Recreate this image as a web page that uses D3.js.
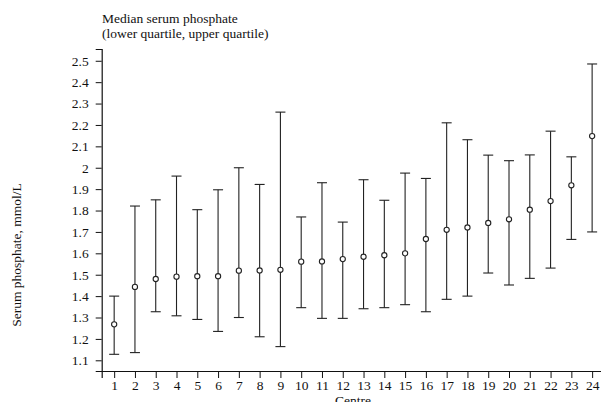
<!DOCTYPE html>
<html>
<head>
<meta charset="utf-8">
<script src="https://cdn.jsdelivr.net/npm/d3@7"></script>
<style>
  body { margin: 0; background: #fff; }
  svg { font-family: "Liberation Serif", "Times New Roman", serif; }
</style>
</head>
<body>
<svg id="chart" width="601" height="402"></svg>
<script>
// Centre numbers
var centres = [1,2,3,4,5,6,7,8,9,10,11,12,13,14,15,16,17,18,19,20,21,22,23,24];
// median serum phosphate, mmol/L
var medians = [1.268,1.443,1.48,1.491,1.493,1.493,1.519,1.52,1.523,1.561,1.562,1.573,
               1.584,1.591,1.60,1.667,1.71,1.721,1.742,1.759,1.804,1.844,1.918,2.148];
// lower quartile
var lowerQ = [1.128,1.136,1.327,1.308,1.291,1.235,1.30,1.21,1.164,1.346,1.296,1.296,
              1.341,1.346,1.36,1.327,1.385,1.40,1.508,1.452,1.483,1.531,1.665,1.70];
// upper quartile
var upperQ = [1.40,1.821,1.85,1.961,1.804,1.897,2.0,1.922,2.26,1.77,1.93,1.746,
              1.944,1.848,1.975,1.95,2.21,2.131,2.059,2.033,2.06,2.171,2.051,2.485];
var yTicks = [1.1,1.2,1.3,1.4,1.5,1.6,1.7,1.8,1.9,2.0,2.1,2.2,2.3,2.4,2.5];

var svg = d3.select("#chart");

var x = d3.scaleLinear().domain([0.4, 24.6]).range([101.7, 604.6]);
var y = d3.scaleLinear().domain([1.05, 2.555]).range([371, 49]);

// title
var title = svg.append("text")
  .attr("x", 102)
  .attr("y", 23)
  .style("font-size", "13.5px")
  .attr("fill", "#111");
title.append("tspan").attr("x", 102).text("Median serum phosphate");
title.append("tspan").attr("x", 102).attr("dy", 14.5).text("(lower quartile, upper quartile)");

// y axis
var yAxis = svg.append("g")
  .attr("transform", "translate(101.7,0)")
  .call(d3.axisLeft(y).tickValues(yTicks).tickSize(6).tickPadding(7)
    .tickFormat(function (d) { return String(+d.toFixed(1)); }));

// x axis
var xAxis = svg.append("g")
  .attr("transform", "translate(0,371)")
  .call(d3.axisBottom(x).tickValues(centres).tickSize(7).tickPadding(2)
    .tickFormat(d3.format("d")));

[yAxis, xAxis].forEach(function (ax) {
  ax.select(".domain").attr("stroke", "#111").attr("stroke-width", 1.2);
  ax.selectAll(".tick line").attr("stroke", "#111");
  ax.selectAll(".tick text")
    .attr("fill", "#111")
    .style("font-family", "'Liberation Serif', serif")
    .style("font-size", "13.5px");
});

// axis titles
svg.append("text")
  .attr("transform", "translate(21,255) rotate(-90)")
  .attr("text-anchor", "middle")
  .style("font-size", "13.5px")
  .attr("fill", "#111")
  .text("Serum phosphate, mmol/L");

svg.append("text")
  .attr("x", 353)
  .attr("y", 404.5)
  .attr("text-anchor", "middle")
  .style("font-size", "13.5px")
  .attr("fill", "#111")
  .text("Centre");

// error bars
var bars = svg.append("g")
  .selectAll("g")
  .data(centres)
  .enter().append("g");

bars.append("line")
  .attr("x1", function (d) { return x(d); })
  .attr("x2", function (d) { return x(d); })
  .attr("y1", function (d, i) { return y(lowerQ[i]); })
  .attr("y2", function (d, i) { return y(upperQ[i]); })
  .attr("stroke", "#222").attr("stroke-width", 1.1);

bars.append("line")
  .attr("x1", function (d) { return x(d) - 5; })
  .attr("x2", function (d) { return x(d) + 5; })
  .attr("y1", function (d, i) { return y(upperQ[i]); })
  .attr("y2", function (d, i) { return y(upperQ[i]); })
  .attr("stroke", "#222").attr("stroke-width", 1.1);

bars.append("line")
  .attr("x1", function (d) { return x(d) - 5; })
  .attr("x2", function (d) { return x(d) + 5; })
  .attr("y1", function (d, i) { return y(lowerQ[i]); })
  .attr("y2", function (d, i) { return y(lowerQ[i]); })
  .attr("stroke", "#222").attr("stroke-width", 1.1);

bars.append("circle")
  .attr("cx", function (d) { return x(d); })
  .attr("cy", function (d, i) { return y(medians[i]); })
  .attr("r", 2.6)
  .attr("fill", "#fff")
  .attr("stroke", "#222")
  .attr("stroke-width", 1.1);
</script>
</body>
</html>
